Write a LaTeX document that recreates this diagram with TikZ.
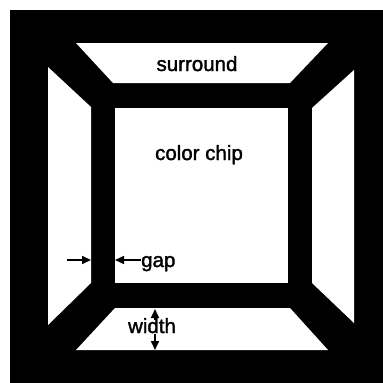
\documentclass[tikz,border=0pt]{standalone}
\usepackage{fontspec}
\setmainfont{Liberation Sans}[UprightFeatures={FakeBold=1.6}]
\usetikzlibrary{arrows.meta}

\begin{document}
\begin{tikzpicture}[x=1pt, y=-1pt,
  lettering/.style={font=\fontsize{20.5}{25}\selectfont, inner sep=0pt, anchor=base},
  dimarrow/.style={line width=1.6pt, -{Triangle[length=9pt,width=8pt]}}]

% Page and black ground
\useasboundingbox (0,0) rectangle (383,383);
\fill[white] (0,0) rectangle (383,383);
\fill[black] (10,10) rectangle (383,383);

% Surround: top and bottom trapezoids
\fill[white] (76,43) -- (328,43) -- (290,83) -- (113,83) -- cycle;
\fill[white] (115,308) -- (290,308) -- (328,350) -- (76,350) -- cycle;

% Surround: left and right trapezoids
\fill[white] (48,67) -- (91,107) -- (91,283) -- (48,325) -- cycle;
\fill[white] (354,70) -- (312,108) -- (312,283) -- (354,323) -- cycle;

% Color chip
\fill[white] (115,108) rectangle (288,283);

% Labels
\node[lettering] (surround) at (197,71) {surround};
\node[lettering] (chip) at (199,160) {color chip};
\node[lettering, anchor=base west] (gap) at (141,267) {gap};
\node[lettering] (width) at (152,333) {width};

% Gap arrows
\coordinate (gapL) at (67,260);
\coordinate (gapLtip) at (91,260);
\coordinate (gapRtip) at (115,260);
\draw[dimarrow] (gapL) -- (gapLtip);
\draw[dimarrow] (gap.west |- gapRtip) -- (gapRtip);

% Width arrows
\coordinate (widthUp) at (155,309);
\coordinate (widthDown) at (155,350);
\draw[dimarrow] (width.north -| widthUp) ++(0,2) -- (widthUp);
\draw[dimarrow] (width.south -| widthDown) ++(0,1) -- (widthDown);

\end{tikzpicture}
\end{document}
